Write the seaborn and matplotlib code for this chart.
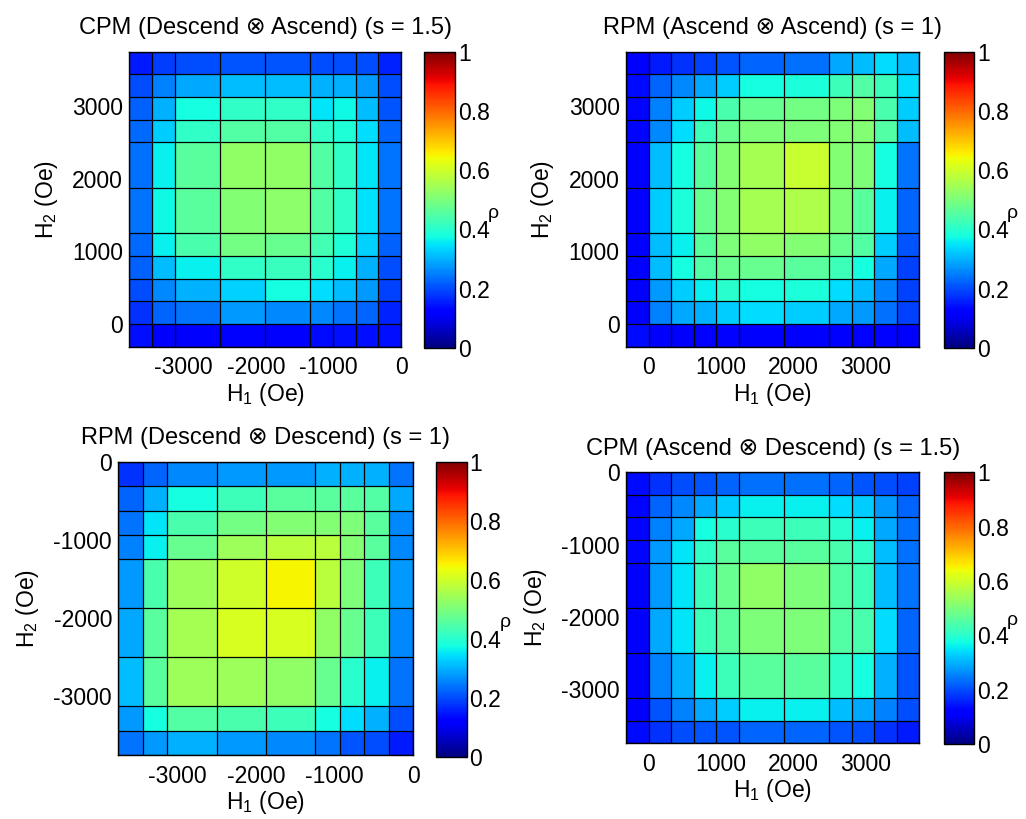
import numpy as np
import matplotlib
matplotlib.use("Agg")
import matplotlib.pyplot as plt
import seaborn as sns

sns.set_theme(style="white")
plt.rcParams["font.family"] = ["Liberation Sans", "DejaVu Sans"]
plt.rcParams["mathtext.fontset"] = "custom"
plt.rcParams["mathtext.rm"] = "Liberation Sans"
plt.rcParams["mathtext.it"] = "Liberation Sans:italic"
plt.rcParams["axes.unicode_minus"] = False

# ---- grid cell edges (Oe); field step 312.5 Oe, coarse cells span two steps ----
STEP = 312.5
edges_asc = [-312.5, 0, 312.5, 625, 937.5, 1250, 1875, 2500, 2812.5, 3125, 3437.5, 3750]
edges_desc = [-3750, -3437.5, -3125, -2500, -1875, -1250, -937.5, -625, -312.5, 0]

ticks_asc = [0, 1000, 2000, 3000]
ticks_desc = [-3000, -2000, -1000, 0]
cbar_ticks = [0, 0.2, 0.4, 0.6, 0.8, 1]
cbar_labels = ["0", "0.2", "0.4", "0.6", "0.8", "1"]

titles = [
    "CPM (Descend \u2297 Ascend) (s = 1.5)",
    "RPM (Ascend \u2297 Ascend) (s = 1)",
    "RPM (Descend \u2297 Descend) (s = 1)",
    "CPM (Ascend \u2297 Descend) (s = 1.5)",
]

# ---- rho values, rows listed from the top of each map downwards ----
rho_cpm_da = [
    [0.15, 0.185, 0.20, 0.21, 0.21, 0.20, 0.20, 0.20, 0.16],
    [0.20, 0.25, 0.29, 0.31, 0.31, 0.30, 0.30, 0.275, 0.20],
    [0.22, 0.30, 0.375, 0.41, 0.41, 0.35, 0.37, 0.31, 0.21],
    [0.23, 0.325, 0.41, 0.45, 0.45, 0.41, 0.39, 0.34, 0.225],
    [0.235, 0.36, 0.46, 0.525, 0.525, 0.45, 0.41, 0.35, 0.24],
    [0.24, 0.37, 0.46, 0.51, 0.52, 0.45, 0.41, 0.345, 0.24],
    [0.23, 0.36, 0.44, 0.49, 0.475, 0.43, 0.39, 0.33, 0.22],
    [0.22, 0.31, 0.36, 0.41, 0.42, 0.40, 0.36, 0.30, 0.20],
    [0.20, 0.26, 0.30, 0.33, 0.375, 0.34, 0.31, 0.275, 0.19],
    [0.175, 0.225, 0.24, 0.275, 0.26, 0.26, 0.24, 0.225, 0.16],
    [0.14, 0.12, 0.12, 0.12, 0.12, 0.135, 0.14, 0.14, 0.14],
]

rho_rpm_aa = [
    [0.12, 0.15, 0.175, 0.19, 0.21, 0.225, 0.235, 0.29, 0.31, 0.34, 0.31],
    [0.135, 0.225, 0.26, 0.29, 0.325, 0.375, 0.385, 0.425, 0.45, 0.425, 0.34],
    [0.13, 0.25, 0.325, 0.37, 0.44, 0.475, 0.49, 0.50, 0.51, 0.44, 0.325],
    [0.13, 0.26, 0.34, 0.425, 0.475, 0.50, 0.50, 0.51, 0.51, 0.45, 0.31],
    [0.12, 0.31, 0.375, 0.46, 0.51, 0.55, 0.59, 0.51, 0.50, 0.375, 0.24],
    [0.12, 0.325, 0.385, 0.475, 0.51, 0.55, 0.56, 0.50, 0.46, 0.36, 0.225],
    [0.12, 0.31, 0.36, 0.46, 0.50, 0.525, 0.51, 0.475, 0.45, 0.325, 0.21],
    [0.12, 0.31, 0.375, 0.45, 0.475, 0.475, 0.46, 0.425, 0.375, 0.29, 0.19],
    [0.12, 0.275, 0.325, 0.36, 0.40, 0.375, 0.385, 0.34, 0.31, 0.25, 0.19],
    [0.12, 0.25, 0.29, 0.30, 0.325, 0.34, 0.325, 0.29, 0.275, 0.235, 0.19],
    [0.135, 0.11, 0.115, 0.12, 0.125, 0.11, 0.11, 0.115, 0.12, 0.125, 0.12],
]

rho_rpm_dd = [
    [0.175, 0.225, 0.26, 0.275, 0.275, 0.30, 0.30, 0.30, 0.24],
    [0.225, 0.30, 0.375, 0.425, 0.46, 0.46, 0.46, 0.45, 0.29],
    [0.24, 0.35, 0.44, 0.49, 0.51, 0.51, 0.50, 0.46, 0.26],
    [0.25, 0.36, 0.475, 0.54, 0.575, 0.575, 0.51, 0.46, 0.26],
    [0.275, 0.44, 0.54, 0.60, 0.65, 0.575, 0.50, 0.425, 0.275],
    [0.29, 0.46, 0.55, 0.61, 0.61, 0.525, 0.475, 0.425, 0.26],
    [0.31, 0.46, 0.54, 0.54, 0.525, 0.475, 0.40, 0.36, 0.24],
    [0.275, 0.375, 0.45, 0.44, 0.425, 0.375, 0.34, 0.30, 0.20],
    [0.24, 0.275, 0.30, 0.275, 0.26, 0.24, 0.21, 0.20, 0.15],
]

rho_cpm_ad = [
    [0.135, 0.175, 0.20, 0.21, 0.225, 0.235, 0.235, 0.225, 0.21, 0.20, 0.19],
    [0.13, 0.225, 0.26, 0.29, 0.325, 0.36, 0.36, 0.34, 0.325, 0.275, 0.225],
    [0.13, 0.25, 0.29, 0.375, 0.40, 0.425, 0.425, 0.40, 0.36, 0.29, 0.235],
    [0.13, 0.275, 0.35, 0.41, 0.46, 0.46, 0.46, 0.44, 0.41, 0.31, 0.235],
    [0.11, 0.275, 0.35, 0.425, 0.475, 0.525, 0.50, 0.45, 0.425, 0.31, 0.24],
    [0.11, 0.29, 0.35, 0.425, 0.46, 0.50, 0.50, 0.45, 0.44, 0.34, 0.225],
    [0.11, 0.25, 0.30, 0.36, 0.425, 0.46, 0.46, 0.41, 0.375, 0.30, 0.21],
    [0.12, 0.21, 0.25, 0.29, 0.325, 0.36, 0.36, 0.31, 0.29, 0.25, 0.20],
    [0.135, 0.175, 0.20, 0.21, 0.21, 0.225, 0.225, 0.21, 0.20, 0.175, 0.15],
]

panels = [
    dict(rho=rho_cpm_da, xe=edges_desc, ye=edges_asc, xt=ticks_desc, yt=ticks_asc,
         ax=(129.3, 51.7, 401.0, 346.7), cb=(424.0, 51.7, 455.0, 347.7)),
    dict(rho=rho_rpm_aa, xe=edges_asc, ye=edges_asc, xt=ticks_asc, yt=ticks_asc,
         ax=(626.0, 51.7, 919.3, 346.7), cb=(944.0, 51.7, 974.3, 347.7)),
    dict(rho=rho_rpm_dd, xe=edges_desc, ye=edges_desc, xt=ticks_desc, yt=ticks_desc,
         ax=(118.3, 461.7, 413.3, 755.0), cb=(436.0, 461.7, 466.7, 756.7)),
    dict(rho=rho_cpm_ad, xe=edges_asc, ye=edges_desc, xt=ticks_asc, yt=ticks_desc,
         ax=(626.0, 472.3, 919.3, 743.3), cb=(944.0, 472.3, 974.3, 744.3)),
]

W, H = 1026, 819
fig = plt.figure(figsize=(W / 100, H / 100), dpi=100)


def frac(box):
    x0, y0, x1, y1 = box
    return [x0 / W, 1 - y1 / H, (x1 - x0) / W, (y1 - y0) / H]


FS = 16.5
FS_TITLE = 17
for p, title in zip(panels, titles):
    ax = fig.add_axes(frac(p["ax"]))
    cax = fig.add_axes(frac(p["cb"]))

    xe = np.asarray(p["xe"], float)
    ye_top = np.asarray(p["ye"], float)[::-1]          # edges from top to bottom
    wx = np.round(np.diff(xe) / STEP).astype(int)
    wy = np.round(-np.diff(ye_top) / STEP).astype(int)
    vals = np.asarray(p["rho"], float)
    # spread each coarse cell across the fine 312.5 Oe lattice
    fine = np.repeat(np.repeat(vals, wy, axis=0), wx, axis=1)

    sns.heatmap(fine, ax=ax, cmap="jet", vmin=0, vmax=1, cbar_ax=cax,
                xticklabels=False, yticklabels=False, linewidths=0)

    # cell borders
    nx, ny = fine.shape[1], fine.shape[0]
    xb = (xe - xe[0]) / STEP
    yb = (ye_top[0] - ye_top) / STEP
    ax.vlines(xb, 0, ny, colors="black", linewidth=0.9)
    ax.hlines(yb, 0, nx, colors="black", linewidth=0.9)

    for s in ax.spines.values():
        s.set_visible(True)
        s.set_color("black")
        s.set_linewidth(1.0)

    ax.set_xticks([(t - xe[0]) / STEP for t in p["xt"]])
    ax.set_xticklabels([f"{t:g}" for t in p["xt"]], rotation=0, fontsize=FS)
    ax.set_yticks([(ye_top[0] - t) / STEP for t in p["yt"]])
    ax.set_yticklabels([f"{t:g}" for t in p["yt"]], rotation=0, fontsize=FS)
    ax.tick_params(axis="both", direction="in", length=4, width=0.8,
                   color="black", labelcolor="black",
                   bottom=True, left=True, top=False, right=False)
    ax.tick_params(axis="x", pad=7)
    ax.tick_params(axis="y", pad=4.5)
    ax.set_xlabel("H$_1$ (Oe)", fontsize=FS, color="black", labelpad=1)
    ax.set_ylabel("H$_2$ (Oe)", fontsize=FS, color="black", labelpad=9)
    ax.set_title(title, fontsize=FS_TITLE, color="black", pad=12.5)

    cb = ax.collections[0].colorbar
    cb.outline.set_visible(True)
    cb.outline.set_linewidth(1.0)
    cb.outline.set_edgecolor("black")
    cb.set_ticks(cbar_ticks)
    cb.set_ticklabels(cbar_labels)
    cax.tick_params(axis="y", direction="in", length=3, width=0.8, color="black",
                    labelcolor="black", labelsize=FS, pad=2, left=True, right=True)
    cax.text(2.25, 0.455, "\u03c1", transform=cax.transAxes, fontsize=14,
             ha="center", va="center", color="black")

fig.savefig("out.png", dpi=100)
